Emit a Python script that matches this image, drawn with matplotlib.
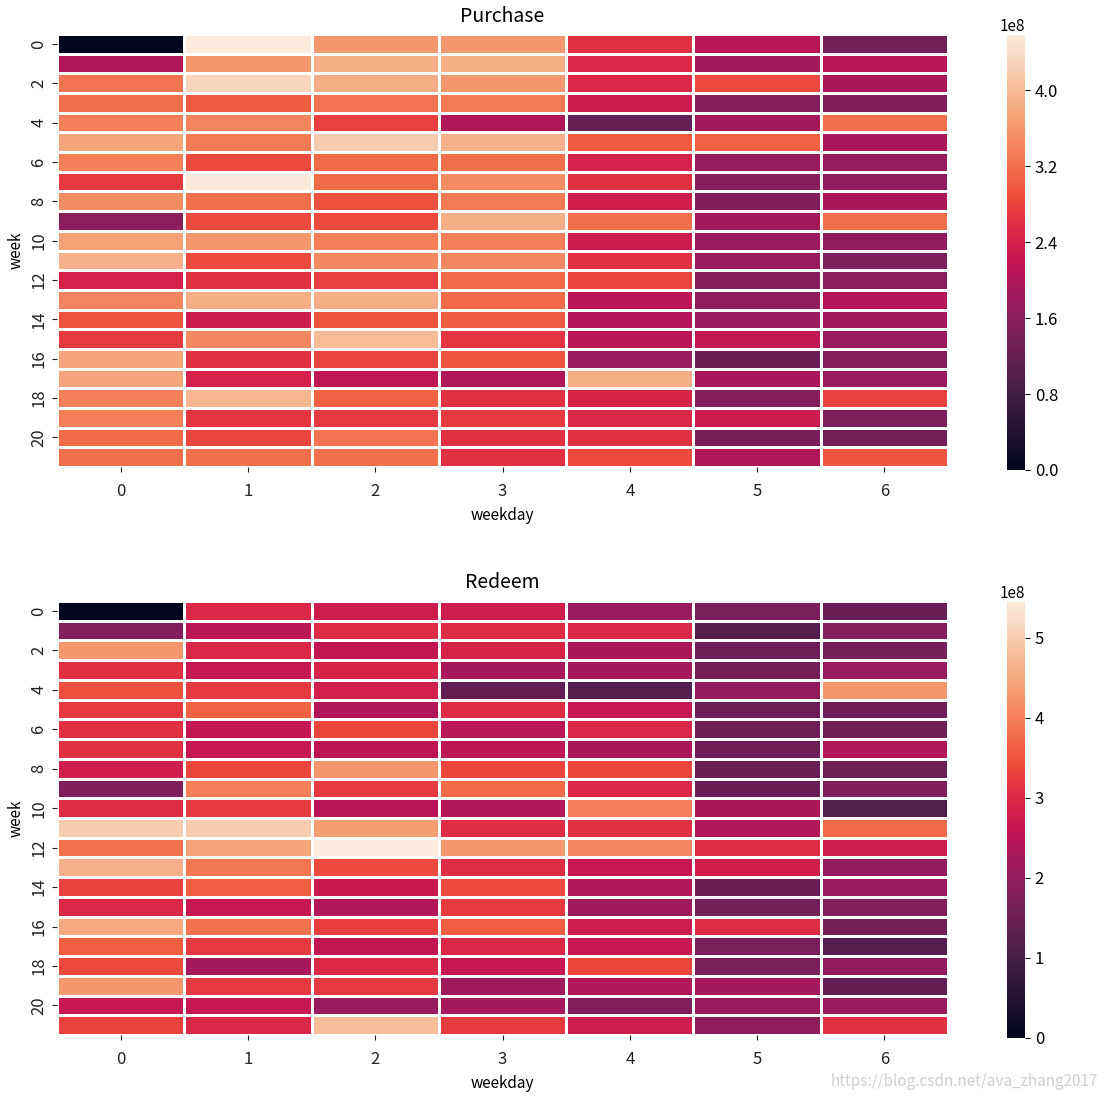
import numpy as np
import matplotlib
matplotlib.use("Agg")
import matplotlib.pyplot as plt
import seaborn as sns

plt.rcParams['font.family'] = ['Noto Sans CJK SC', 'DejaVu Sans']

weekdays = [0, 1, 2, 3, 4, 5, 6]
weeks = list(range(22))

# values in units of 1e8
purchase_values = [
    [0.00, 4.58, 3.60, 3.60, 2.60, 2.10, 1.35],
    [2.00, 3.60, 3.85, 3.85, 2.50, 1.85, 2.10],
    [3.25, 4.30, 3.85, 3.60, 2.50, 2.85, 1.95],
    [3.20, 3.00, 3.25, 3.30, 2.30, 1.55, 1.50],
    [3.35, 3.40, 2.75, 2.00, 1.20, 1.85, 3.20],
    [3.75, 3.30, 4.20, 3.90, 3.00, 3.05, 1.90],
    [3.35, 2.85, 3.15, 3.20, 2.40, 1.70, 1.70],
    [2.70, 4.55, 3.15, 3.50, 2.60, 1.55, 1.65],
    [3.50, 3.20, 2.90, 3.30, 2.35, 1.50, 1.95],
    [1.60, 2.85, 2.85, 3.85, 3.20, 1.85, 3.20],
    [3.70, 3.60, 3.35, 3.35, 2.30, 1.75, 1.65],
    [3.90, 2.85, 3.45, 3.45, 2.60, 1.75, 1.45],
    [2.40, 2.60, 2.75, 3.15, 2.80, 1.55, 1.60],
    [3.40, 3.85, 3.85, 3.15, 2.10, 1.65, 2.05],
    [2.95, 2.30, 2.95, 3.00, 2.05, 1.75, 1.85],
    [2.70, 3.45, 4.00, 2.65, 2.10, 2.20, 1.75],
    [3.75, 2.60, 2.80, 2.95, 1.75, 1.25, 1.55],
    [3.75, 2.40, 2.15, 2.00, 3.85, 1.90, 1.75],
    [3.35, 3.95, 3.05, 2.60, 2.45, 1.55, 2.75],
    [3.35, 2.65, 2.70, 2.70, 2.50, 2.30, 1.45],
    [3.15, 2.80, 3.25, 2.60, 2.60, 1.40, 1.35],
    [3.20, 3.20, 3.20, 2.60, 2.85, 2.00, 2.95],
]

redeem_values = [
    [0.00, 2.95, 2.75, 2.75, 2.10, 1.70, 1.45],
    [1.80, 2.50, 3.05, 3.05, 2.95, 1.20, 1.85],
    [4.30, 2.95, 2.60, 2.90, 2.30, 1.50, 1.65],
    [3.10, 2.65, 2.90, 2.25, 2.25, 1.60, 2.05],
    [3.45, 3.20, 2.85, 1.40, 1.20, 2.00, 4.30],
    [3.20, 3.65, 2.40, 3.05, 2.65, 1.50, 1.55],
    [3.10, 2.60, 3.35, 2.45, 2.95, 1.50, 1.55],
    [3.10, 2.65, 2.55, 2.55, 2.30, 1.55, 2.40],
    [2.80, 3.35, 4.30, 3.35, 3.35, 1.45, 1.50],
    [1.75, 4.00, 3.20, 3.75, 2.95, 1.45, 1.75],
    [3.05, 3.20, 2.45, 2.40, 4.00, 2.30, 1.15],
    [5.00, 5.00, 4.35, 3.05, 3.10, 2.40, 3.75],
    [3.85, 4.45, 5.45, 4.30, 4.10, 3.05, 2.75],
    [4.60, 3.90, 3.40, 3.05, 2.65, 2.80, 2.00],
    [3.30, 3.60, 2.70, 3.40, 2.40, 1.45, 2.10],
    [2.95, 2.65, 2.40, 3.20, 2.15, 1.60, 1.80],
    [4.50, 3.85, 3.25, 3.60, 2.75, 3.05, 1.60],
    [3.60, 3.20, 2.60, 2.95, 2.65, 1.70, 1.20],
    [3.40, 2.25, 3.00, 2.65, 3.35, 1.70, 2.00],
    [4.30, 3.20, 3.20, 2.15, 2.40, 2.25, 1.40],
    [2.65, 2.65, 2.10, 2.25, 1.80, 2.05, 2.05],
    [3.30, 2.95, 4.80, 3.20, 2.75, 1.95, 3.10],
]

purchase_cbar_ticks = [0, 0.8, 1.6, 2.4, 3.2, 4.0]
redeem_cbar_ticks = [0, 1, 2, 3, 4, 5]

W, H = 1106, 1100
fig = plt.figure(figsize=(W / 100, H / 100), dpi=100)


def box(x0, y0, x1, y1):
    return [x0 / W, 1 - y1 / H, (x1 - x0) / W, (y1 - y0) / H]


panels = [
    ("Purchase", purchase_values, purchase_cbar_ticks, 34, 467),
    ("Redeem", redeem_values, redeem_cbar_ticks, 601, 1035),
]

for title, vals, cticks, ytop, ybot in panels:
    ax = fig.add_axes(box(57, ytop, 948, ybot))
    cax = fig.add_axes(box(1007, ytop + 1, 1025, ybot + 3))
    data = np.array(vals) * 1e8
    sns.heatmap(data, ax=ax, cbar_ax=cax, linewidths=1.0, linecolor='white',
                xticklabels=weekdays, yticklabels=2)
    ax.set_yticks(np.arange(0, len(weeks), 2) + 0.5)
    ax.set_yticklabels([str(w) for w in weeks[::2]], rotation=90, va='center')
    ax.set_xticklabels([str(d) for d in weekdays], rotation=0)
    ax.tick_params(labelsize=12, colors='#222222')
    ax.tick_params(axis='x', pad=8)
    ax.set_xlabel("weekday", fontsize=11, labelpad=5)
    ax.set_ylabel("week", fontsize=11)
    ax.set_title(title, fontsize=14, pad=9)
    cax.set_yticks(np.array(cticks) * 1e8)
    cax.tick_params(labelsize=12)
    cax.yaxis.get_offset_text().set_fontsize(11)

fig.text(1098 / W, 1 - 1082 / H, "https://blog.csdn.net/ava_zhang2017",
         ha='right', va='center', fontsize=11, color='#d0d0d0')

fig.savefig("out.png", dpi=100)
